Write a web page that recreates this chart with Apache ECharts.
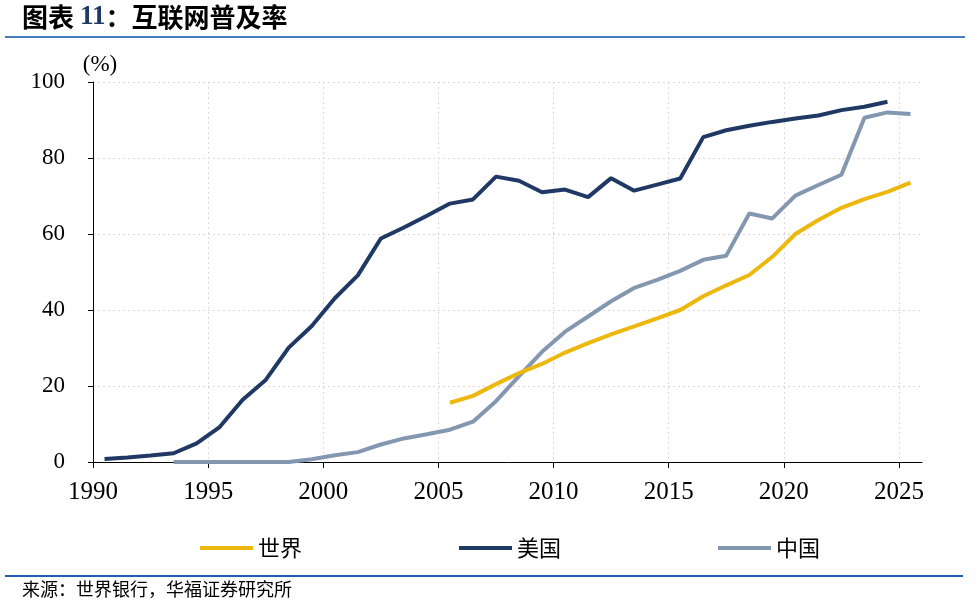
<!DOCTYPE html>
<html>
<head>
<meta charset="utf-8">
<script src="https://cdn.jsdelivr.net/npm/echarts@6/dist/echarts.min.js"></script>
<style>html,body{margin:0;padding:0;background:#fff;}#c{width:977px;height:606px;}</style>
</head>
<body>
<div id="c"></div>
<script>
var usYears = [1990,1991,1992,1993,1994,1995,1996,1997,1998,1999,2000,2001,2002,2003,2004,2005,2006,2007,2008,2009,2010,2011,2012,2013,2014,2015,2016,2017,2018,2019,2020,2021,2022,2023,2024];
var usValues = [0.8,1.2,1.7,2.3,4.9,9.2,16.4,21.6,30.1,35.8,43.1,49.1,58.8,61.7,64.8,68.0,69.1,75.1,74.0,71.0,71.7,69.7,74.7,71.4,73.0,74.6,85.5,87.3,88.5,89.5,90.4,91.2,92.6,93.5,94.8];
var cnYears = [1993,1994,1995,1996,1997,1998,1999,2000,2001,2002,2003,2004,2005,2006,2007,2008,2009,2010,2011,2012,2013,2014,2015,2016,2017,2018,2019,2020,2021,2022,2023,2024,2025];
var cnValues = [0,0,0,0,0,0,0.7,1.8,2.6,4.6,6.2,7.3,8.5,10.6,16.0,22.6,29.0,34.3,38.3,42.3,45.8,47.9,50.3,53.2,54.3,65.4,64.1,70.1,72.9,75.6,90.6,92.0,91.6];
var wdYears = [2005,2006,2007,2008,2009,2010,2011,2012,2013,2014,2015,2016,2017,2018,2019,2020,2021,2022,2023,2024,2025];
var wdValues = [15.6,17.4,20.5,23.4,25.8,28.8,31.3,33.6,35.7,37.8,40.0,43.6,46.5,49.2,54.0,60.0,63.7,66.9,69.2,71.1,73.5];
var xTicks = [1990,1995,2000,2005,2010,2015,2020,2025];
var yTicks = [0,20,40,60,80,100];

function pairs(years, vals){ return years.map(function(y,i){ return [y + 0.5, vals[i]]; }); }

var chart = echarts.init(document.getElementById('c'));
var serifFont = '"Liberation Serif","Times New Roman",serif';
var cjk = '"Noto Sans CJK SC","Noto Sans",sans-serif';
chart.setOption({
  animation: false,
  backgroundColor: '#fff',
  grid: {left: 93, right: 55, top: 82, bottom: 144, containLabel: false},
  xAxis: {
    type: 'value', min: 1990, max: 2026, interval: 5,
    axisLine: {show: true, lineStyle: {color: '#000', width: 1}},
    axisTick: {show: true, length: 6, lineStyle: {color: '#000'}, customValues: xTicks},
    axisLabel: {show: true, customValues: xTicks, margin: 18, fontFamily: serifFont, fontSize: 25, color: '#000',
      formatter: function(v){ return String(v); }},
    splitLine: {show: true, lineStyle: {color: '#D9D9D9', type: [2, 3], width: 1}}
  },
  yAxis: {
    type: 'value', min: 0, max: 100, interval: 20,
    name: '(%)', nameLocation: 'end', nameGap: 6,
    nameTextStyle: {fontFamily: serifFont, fontSize: 23, color: '#000', padding: [0, 0, 0, 14]},
    axisLine: {show: true, lineStyle: {color: '#000', width: 1}},
    axisTick: {show: true, length: 5, lineStyle: {color: '#000'}},
    axisLabel: {margin: 28, fontFamily: serifFont, fontSize: 23, color: '#000',
      formatter: function(v){ return String(v); }},
    splitLine: {show: true, lineStyle: {color: '#D9D9D9', type: [2, 3], width: 1}}
  },
  legend: {
    left: 195, top: 532, icon: 'rect', itemWidth: 53, itemHeight: 4, itemGap: 157,
    textStyle: {fontFamily: cjk, fontSize: 22, color: '#000', padding: [0,0,0,0]},
    data: ['世界', '美国', '中国']
  },
  series: [
    {name: '世界', type: 'line', data: pairs(wdYears, wdValues), showSymbol: false, symbol: 'none',
     lineStyle: {color: '#EDB80D', width: 4}, itemStyle: {color: '#EDB80D'}, z: 3},
    {name: '美国', type: 'line', data: pairs(usYears, usValues), showSymbol: false, symbol: 'none',
     lineStyle: {color: '#203864', width: 4}, itemStyle: {color: '#203864'}, z: 2},
    {name: '中国', type: 'line', data: pairs(cnYears, cnValues), showSymbol: false, symbol: 'none',
     lineStyle: {color: '#8497B0', width: 4}, itemStyle: {color: '#8497B0'}, z: 1}
  ],
  graphic: [
    {type: 'text', left: 22, top: 4, style: {
      text: '{a|图表 }{b|11}{a|：互联网普及率}',
      rich: {
        a: {fontFamily: cjk, fontWeight: 'bold', fontSize: 26, fill: '#000'},
        b: {fontFamily: serifFont, fontWeight: 'bold', fontSize: 27, fill: '#1F3864'}
      }
    }},
    {type: 'rect', shape: {x: 5, y: 36, width: 960, height: 2}, style: {fill: '#4A7EBB'}},
    {type: 'rect', shape: {x: 5, y: 575, width: 958, height: 2}, style: {fill: '#1F5CB8'}},
    {type: 'text', left: 22, top: 580, style: {text: '来源：世界银行，华福证券研究所', fontFamily: cjk, fontSize: 18, fill: '#000'}}
  ]
});
</script>
</body>
</html>
